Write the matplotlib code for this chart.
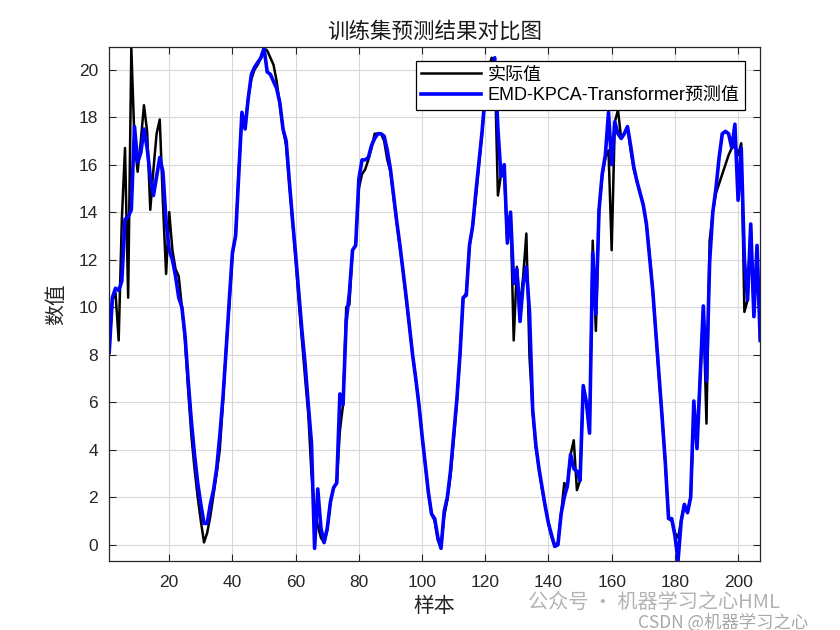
import numpy as np
import matplotlib.pyplot as plt

plt.rcParams['font.family'] = ['Liberation Sans', 'Noto Sans CJK SC']

# actual values (black) and predicted values (blue), samples 1..207
actual = [
    8.1, 10.3, 10.6, 8.6, 13.7, 16.7, 10.4, 20.9, 17.0, 15.7,
    17.0, 18.5, 17.4, 14.1, 15.8, 17.3, 17.9, 14.4, 11.4, 14.0,
    12.4, 11.6, 11.3, 10.0, 8.6, 6.5, 4.6, 3.2, 2.0, 1.0,
    0.1, 0.5, 1.2, 2.1, 3.0, 4.0, 6.0, 8.3, 10.1, 12.2,
    13.0, 15.8, 18.0, 17.7, 18.8, 19.6, 20.0, 20.2, 20.5, 20.9,
    20.8, 20.5, 20.2, 19.5, 18.5, 17.5, 16.8, 15.2, 13.6, 12.0,
    10.2, 8.6, 7.0, 5.5, 3.0, 1.5, 0.8, 0.3, 0.07, 0.6,
    1.8, 2.4, 2.6, 4.8, 5.9, 10.0, 10.1, 12.4, 12.6, 15.0,
    15.6, 15.8, 16.2, 16.7, 17.3, 17.3, 17.3, 17.0, 16.2, 15.7,
    14.6, 13.5, 12.5, 11.5, 10.3, 9.2, 8.0, 7.0, 5.9, 4.6,
    3.4, 2.2, 1.3, 1.0, 0.2, -0.1, 1.2, 1.9, 2.9, 4.4,
    6.0, 8.0, 10.4, 10.6, 12.6, 13.4, 14.6, 16.0, 17.3, 19.0,
    20.0, 20.5, 20.2, 14.7, 15.6, 15.6, 12.7, 14.0, 8.6, 11.7,
    10.0, 11.3, 13.1, 7.9, 5.6, 4.1, 3.2, 2.3, 1.6, 0.9,
    0.3, -0.05, 0.1, 1.3, 2.6, 2.4, 3.8, 4.4, 2.3, 2.7,
    6.5, 6.0, 4.7, 12.8, 9.0, 14.1, 15.5, 16.3, 16.6, 12.4,
    17.8, 18.3, 17.1, 17.3, 17.6, 16.6, 15.8, 15.3, 14.8, 14.3,
    13.5, 12.2, 10.7, 8.8, 7.0, 5.3, 3.4, 1.1, 1.0, 0.5,
    0.3, 1.0, 1.7, 1.35, 2.0, 5.4, 4.5, 7.0, 10.0, 5.1,
    12.8, 14.0, 14.8, 15.2, 15.6, 16.0, 16.4, 16.7, 16.8, 16.4,
    16.9, 9.8, 10.3, 13.5, 9.6, 12.6, 8.6,
]
predicted = [
    8.1, 10.4, 10.8, 10.7, 11.1, 13.7, 13.8, 14.1, 17.6, 16.1,
    16.5, 17.5, 16.7, 15.5, 14.7, 15.5, 16.3, 15.7, 13.6, 12.4,
    12.0, 11.3, 10.4, 10.0, 8.8, 6.9, 5.2, 3.8, 2.6, 1.7,
    0.9, 0.9, 1.7, 2.3, 3.2, 4.6, 6.2, 8.2, 10.3, 12.3,
    13.0, 15.6, 18.2, 17.5, 18.8, 19.8, 20.1, 20.3, 20.5, 20.9,
    19.9, 19.8, 19.5, 19.2, 18.6, 17.5, 17.0, 15.3, 13.7, 12.2,
    10.6, 9.0, 7.6, 5.9, 4.3, -0.15, 2.35, 0.7, 0.1, 0.7,
    1.8, 2.4, 2.6, 6.35, 5.9, 9.4, 10.6, 12.4, 12.6, 15.4,
    16.2, 16.2, 16.3, 16.8, 17.1, 17.3, 17.3, 17.2, 16.6, 15.8,
    14.7, 13.6, 12.6, 11.5, 10.4, 9.2, 8.0, 7.0, 5.9, 4.6,
    3.4, 2.2, 1.3, 1.1, 0.3, -0.15, 1.4, 2.0, 3.1, 4.6,
    6.1, 8.0, 10.4, 10.5, 12.6, 13.4, 14.8, 16.1, 17.4, 19.0,
    19.8, 20.1, 20.5, 17.5, 15.5, 16.0, 12.7, 14.0, 11.0, 11.6,
    9.4, 11.0, 11.7, 9.8, 5.7, 4.2, 3.2, 2.4, 1.6, 0.9,
    0.4, -0.07, 0.0, 1.3, 2.0, 2.5, 3.8, 3.2, 3.1, 2.7,
    6.7, 6.0, 4.7, 12.3, 9.7, 14.1, 15.6, 16.4, 18.2, 16.0,
    17.8, 17.3, 17.1, 17.3, 17.6, 16.8, 15.9, 15.3, 14.8, 14.3,
    13.5, 12.1, 10.7, 8.9, 7.1, 5.3, 3.4, 1.1, 1.1, 0.4,
    -0.67, 1.0, 1.7, 1.35, 2.0, 6.05, 4.05, 7.0, 10.05, 6.9,
    11.9, 14.0, 15.0, 16.3, 17.3, 17.4, 17.3, 16.7, 17.7, 14.5,
    16.7, 12.0, 10.3, 13.5, 9.6, 12.6, 8.6,
]
x = np.arange(1, len(actual) + 1)

fig = plt.figure(figsize=(8.4, 6.3), dpi=100)
ax = fig.add_axes([0.13, 0.11, 0.775, 0.815])
ax.plot(x, actual, color='black', lw=1.8, label='实际值')
ax.plot(x, predicted, color='#0000ff', lw=2.6, label='EMD-KPCA-Transformer预测值')

ax.set_xlim(1, len(actual))
ax.set_ylim(-0.67, 20.94)
ax.set_xticks(np.arange(20, 201, 20))
ax.set_yticks(np.arange(0, 21, 2))
ax.tick_params(direction='in', labelsize=12.5, colors='#262626', length=5, width=0.8,
               top=True, right=True, labeltop=False, labelright=False)
ax.tick_params(axis='x', pad=10)
ax.tick_params(axis='y', pad=8)
ax.grid(True, color='#d9d9d9', lw=0.8)
ax.set_axisbelow(True)
for s in ax.spines.values():
    s.set_color('#262626')
    s.set_linewidth(0.9)

ax.set_title('训练集预测结果对比图', fontsize=15.5, color='#1a1a1a', pad=7,
             family=['Noto Sans CJK SC'])
ax.set_xlabel('样本', fontsize=15, color='#262626', labelpad=4,
              family=['Noto Sans CJK SC'])
ax.set_ylabel('数值', fontsize=15, color='#262626', labelpad=8,
              family=['Noto Sans CJK SC'])

leg = ax.legend(loc='upper right', bbox_to_anchor=(0.976, 0.973), fontsize=13,
                fancybox=False, framealpha=1, edgecolor='black',
                borderpad=0.3, handlelength=3.3, handletextpad=0.35,
                labelspacing=0.2, borderaxespad=0)
leg.get_frame().set_linewidth(0.9)

# watermark texts
fig.text(0.629, 0.043, '公众号 · 机器学习之心HML', fontsize=14.5, color='#b3b3b3',
         va='center', family=['Noto Sans CJK SC'])
fig.text(0.76, 0.012, 'CSDN @机器学习之心', fontsize=12.5, color='#a8a8a8',
         va='center', family=['Noto Sans CJK SC'])

fig.savefig('out.png', dpi=100)
